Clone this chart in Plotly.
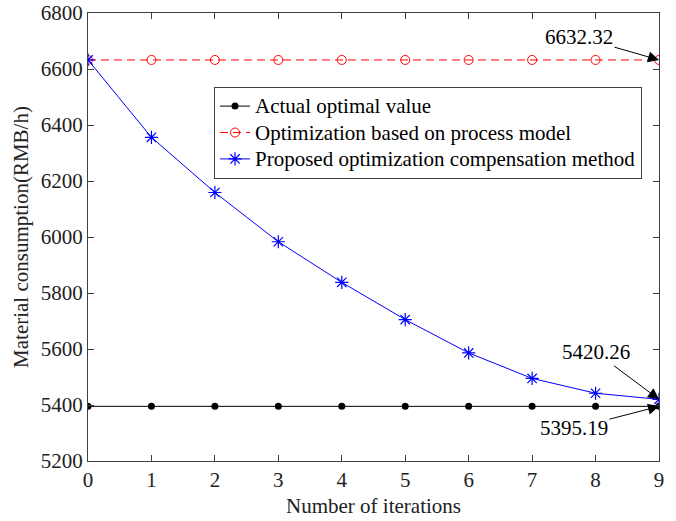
import plotly.graph_objects as go

iterations = list(range(10))
actual_optimal = [5395.19] * 10
process_model = [6632.32] * 10
proposed_method = [6632.32, 6356, 6159, 5983, 5838, 5705, 5586, 5495, 5442, 5420.26]

series_names = [
    "Actual optimal value",
    "Optimization based on process model",
    "Proposed optimization compensation method",
]
y_ticks = [5200, 5400, 5600, 5800, 6000, 6200, 6400, 6600, 6800]
font_family = "Liberation Serif, Times New Roman, serif"
axis_color = "#404040"
fs = 21


def legend_label(text):
    # larger glyphs while the legend rows keep a compact spacing
    return f'<span style="font-size:{fs}px">{text}</span>'


fig = go.Figure()
fig.add_trace(go.Scatter(
    x=iterations, y=actual_optimal, mode="lines+markers",
    name=legend_label(series_names[0]),
    line=dict(color="black", width=1),
    marker=dict(symbol="circle", size=7, color="black"),
))
fig.add_trace(go.Scatter(
    x=iterations, y=process_model, mode="lines+markers",
    name=legend_label(series_names[1]),
    line=dict(color="red", width=1, dash="8px,5px"),
    marker=dict(symbol="circle-open", size=9, color="red", line=dict(width=1)),
))
fig.add_trace(go.Scatter(
    x=iterations, y=proposed_method, mode="lines+markers",
    name=legend_label(series_names[2]),
    line=dict(color="blue", width=1),
    marker=dict(symbol="asterisk-open", size=11, color="blue", line=dict(width=1.2, color="blue")),
))

# value callouts pointing at the last iteration
callouts = [
    (process_model[-1], "6632.32", -80, -23),
    (proposed_method[-1], "5420.26", -63, -47),
    (actual_optimal[-1], "5395.19", -85, 22),
]
for yv, label, ax, ay in callouts:
    fig.add_annotation(
        x=iterations[-1], y=yv, text=label, showarrow=True,
        ax=ax, ay=ay, arrowhead=2, arrowsize=2.2, arrowwidth=1,
        arrowcolor="black", standoff=0,
        font=dict(family=font_family, size=fs, color="black"),
    )

axis_common = dict(
    showline=True, linecolor=axis_color, linewidth=1, mirror="ticks",
    ticks="inside", ticklen=6, tickcolor=axis_color, showgrid=False,
    zeroline=False, tickfont=dict(family=font_family, size=fs, color="#222"),
)
fig.update_xaxes(range=[0, 9], tickvals=iterations, **axis_common,
                 title=dict(text="Number of iterations", standoff=7,
                            font=dict(family=font_family, size=fs, color="#222")))
fig.update_yaxes(range=[5200, 6800], tickvals=y_ticks, **axis_common,
                 title=dict(text="Material consumption(RMB/h)", standoff=6,
                            font=dict(family=font_family, size=fs, color="#222")))

fig.update_layout(
    width=676, height=521,
    margin=dict(l=88, r=17, t=13, b=60, autoexpand=False),
    plot_bgcolor="white", paper_bgcolor="white",
    font=dict(family=font_family, size=fs, color="black"),
    legend=dict(
        x=0.2207, y=0.835, xanchor="left", yanchor="top",
        bordercolor=axis_color, borderwidth=1, bgcolor="white",
        font=dict(family=font_family, size=18, color="black"),
        itemwidth=30, tracegroupgap=0,
    ),
    showlegend=True,
)

fig.write_html("out.html")
